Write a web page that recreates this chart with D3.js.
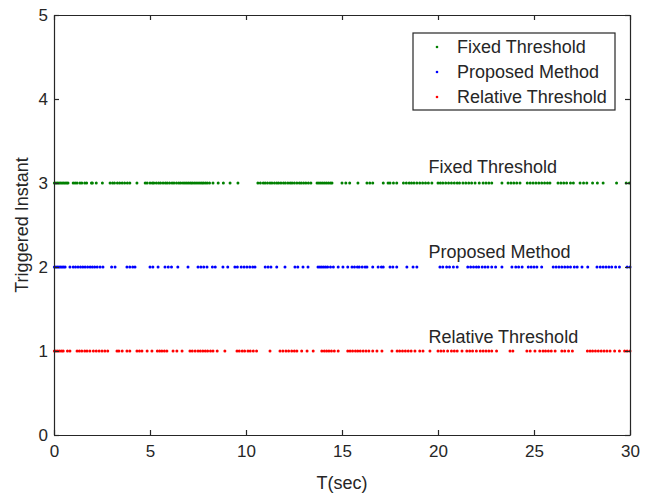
<!DOCTYPE html>
<html>
  <head>
    <script src="https://d3js.org/d3.v7.min.js"></script>
    <style>
      body { margin: 0; background-color: white; }
      text { font-family: 'Liberation Sans', Arial, sans-serif; fill: #262626; }
    </style>
  </head>
  <body>
    <svg id="canvas" width="645" height="493"></svg>
    <script>
      // triggering instants (sec)
      const fixedT = [0.02, 0.1, 0.18, 0.26, 0.34, 0.42, 0.5, 0.58, 0.66, 0.73,
        1.0, 1.1, 1.2, 1.35, 1.45, 1.6, 1.7, 1.95, 2.0, 2.2, 2.52,
        2.92, 3.05, 3.15, 3.3, 3.42, 3.55, 3.68, 3.82, 3.95, 4.32,
        4.75, 4.85, 5.0, 5.12, 5.2, 5.33, 5.45, 5.55, 5.68, 5.8, 5.9, 6.02, 6.15, 6.25,
        6.38, 6.5, 6.6, 6.72, 6.82, 6.92, 7.02, 7.12, 7.2, 7.3, 7.4, 7.5, 7.6, 7.7, 7.78,
        7.88, 7.98, 8.1, 8.28, 8.55, 8.82, 9.17, 9.58,
        10.62, 10.75, 10.9, 11.0, 11.12, 11.25, 11.35, 11.48, 11.6, 11.7, 11.82, 11.95,
        12.05, 12.18, 12.3, 12.4, 12.52, 12.65, 12.78, 12.88, 13.0, 13.12, 13.25, 13.38,
        13.7, 13.8, 13.9, 14.0, 14.1, 14.2, 14.3, 14.4, 14.48, 15.0, 15.2, 15.4, 15.83,
        16.3, 16.45, 16.6, 17.15, 17.4, 17.5, 17.68, 17.85,
        18.2, 18.35, 18.5, 18.62, 18.75, 18.9, 19.05, 19.2, 19.35, 19.5, 19.68,
        20.0, 20.12, 20.25, 20.4, 20.55, 20.7, 20.85, 21.0, 21.12, 21.3, 21.45, 21.6, 21.75,
        21.93, 22.15, 22.35, 22.5, 22.65, 22.8, 23.33, 23.65, 23.8, 23.95, 24.1, 24.27,
        24.65, 24.8, 24.95, 25.1, 25.25, 25.4, 25.55, 25.7, 25.83,
        26.25, 26.4, 26.55, 26.7, 26.9, 27.05, 27.4, 27.58, 27.75, 28.05, 28.3, 28.6,
        29.3, 29.8, 29.97]
      const proposedT = [0.02, 0.1, 0.18, 0.26, 0.34, 0.42, 0.5, 0.58, 0.83,
        1.0, 1.12, 1.25, 1.38, 1.5, 1.62, 1.75, 1.88, 2.0, 2.12, 2.25, 2.4, 2.55,
        3.0, 3.18, 3.8, 3.95, 4.1, 4.22, 5.0, 5.15, 5.42, 5.78, 5.95, 6.12, 6.45, 6.98,
        7.5, 7.65, 7.8, 7.97, 8.25, 8.4, 8.8, 9.05, 9.42, 9.55, 9.75, 9.9, 10.05, 10.2,
        10.35, 10.47, 11.0, 11.15, 11.3, 11.6, 12.03, 12.55, 12.7, 12.97, 13.23,
        13.75, 13.85, 13.95, 14.05, 14.15, 14.25, 14.4, 14.55, 14.8, 15.05, 15.3,
        15.52, 15.65, 15.8, 15.9, 16.05, 16.2, 16.3, 16.6, 16.88, 17.05, 17.15,
        17.5, 17.65, 17.85, 18.38, 18.7, 18.9,
        20.1, 20.25, 20.45, 20.6, 20.8, 21.0, 21.55, 21.7, 21.85, 22.0, 22.12, 22.3,
        22.45, 22.6, 22.8, 23.0, 23.33, 23.85, 24.05, 24.2, 24.38,
        24.7, 24.85, 25.0, 25.15, 25.4, 26.0, 26.15, 26.3, 26.45, 26.6, 26.75, 26.9,
        27.1, 27.25, 27.5, 27.8, 28.28, 28.45, 28.6, 28.75, 28.9, 29.05, 29.25, 29.45,
        29.85, 30.0]
      const relativeT = [0.02, 0.1, 0.2, 0.3, 0.4, 0.48, 0.7, 0.83,
        1.2, 1.32, 1.45, 1.6, 1.72, 1.87, 2.05, 2.2, 2.35, 2.5, 2.65, 2.8,
        3.28, 3.38, 3.55, 3.8, 3.95, 4.32, 4.45, 4.58, 4.85, 5.1,
        5.38, 5.5, 5.62, 5.75, 5.88, 6.2, 6.4, 6.67, 7.08, 7.2, 7.35,
        7.5, 7.62, 7.75, 7.88, 8.0, 8.15, 8.28, 8.5, 8.9,
        9.53, 9.65, 9.8, 9.93, 10.1, 10.22, 10.38, 10.55, 11.25,
        11.77, 11.92, 12.08, 12.22, 12.38, 12.52, 12.65, 12.9, 13.18, 13.5,
        13.95, 14.08, 14.2, 14.32, 14.45, 14.6, 14.8,
        15.3, 15.42, 15.55, 15.7, 15.82, 15.95, 16.1, 16.25, 16.4, 16.6, 16.82, 17.08,
        17.6, 17.87, 18.0, 18.15, 18.3, 18.45, 18.6, 18.8, 19.05, 19.22, 19.58,
        20.0, 20.15, 20.3, 20.5, 20.7, 20.85, 21.0, 21.25, 21.5, 21.65, 21.8, 22.0,
        22.2, 22.35, 22.5, 22.65, 22.8, 23.05, 23.75, 23.9, 24.63, 24.8, 25.05, 25.3,
        25.47, 25.6, 25.75, 25.9, 26.1, 26.45, 26.6, 26.8, 27.0,
        27.78, 27.92, 28.05, 28.2, 28.35, 28.5, 28.65, 28.8, 28.96, 29.2, 29.45,
        29.72, 29.85, 30.0]

      const seriesNames = ['Fixed Threshold', 'Proposed Method', 'Relative Threshold']
      const seriesLevel = [3, 2, 1]
      const seriesColor = ['#008000', '#0000ff', '#ff0000']
      const seriesData = [fixedT, proposedT, relativeT]
      // where the in-plot labels sit (data coords)
      const labelPos = [[19.5, 3.19], [19.5, 2.18], [19.5, 1.17]]

      const xTicks = [0, 5, 10, 15, 20, 25, 30]
      const yTicks = [0, 1, 2, 3, 4, 5]

      const margin = { top: 15, right: 15, bottom: 58, left: 54 }
      const svg = d3.select('#canvas')
      const width = 645 - margin.left - margin.right
      const height = 493 - margin.top - margin.bottom
      const g = svg.append('g').attr('transform', `translate(${margin.left}, ${margin.top})`)

      const x = d3.scaleLinear().domain([0, 30]).range([0, width])
      const y = d3.scaleLinear().domain([0, 5]).range([height, 0])

      // dots
      seriesData.forEach((data, i) => {
        g.append('g').selectAll('circle').data(data)
          .enter()
          .append('circle')
            .attr('cx', d => x(d))
            .attr('cy', y(seriesLevel[i]))
            .attr('r', 1.5)
            .attr('fill', seriesColor[i])
      })

      // axes (matlab style: box with ticks inside on all sides)
      const tickLen = 5
      const axisStyle = sel => {
        sel.select('.domain').attr('stroke', '#262626').attr('stroke-width', 1.2)
        sel.selectAll('.tick line').attr('stroke', '#262626').attr('stroke-width', 1.2)
        sel.selectAll('.tick text').style('font-size', '17px').attr('fill', '#262626')
      }
      g.append('g').attr('transform', `translate(0, ${height})`)
        .call(d3.axisBottom(x).tickValues(xTicks).tickFormat(d3.format('d'))
          .tickSizeInner(-tickLen).tickSizeOuter(0).tickPadding(10))
        .call(axisStyle)
      g.append('g')
        .call(d3.axisLeft(y).tickValues(yTicks).tickFormat(d3.format('d'))
          .tickSizeInner(-tickLen).tickSizeOuter(0).tickPadding(6))
        .call(axisStyle)
      g.append('g')
        .call(d3.axisTop(x).tickValues(xTicks).tickSizeInner(-tickLen).tickSizeOuter(0).tickFormat(''))
        .call(axisStyle)
      g.append('g').attr('transform', `translate(${width}, 0)`)
        .call(d3.axisRight(y).tickValues(yTicks).tickSizeInner(-tickLen).tickSizeOuter(0).tickFormat(''))
        .call(axisStyle)

      // axis titles
      g.append('text')
        .attr('x', width / 2).attr('y', height + 54)
        .attr('text-anchor', 'middle')
        .style('font-size', '18px')
        .text('T(sec)')
      g.append('text')
        .attr('transform', `translate(-26, ${height / 2}) rotate(-90)`)
        .attr('text-anchor', 'middle')
        .style('font-size', '18px')
        .text('Triggered Instant')

      // in-plot labels
      seriesNames.forEach((name, i) => {
        g.append('text')
          .attr('x', x(labelPos[i][0]))
          .attr('y', y(labelPos[i][1]))
          .attr('dy', '0.35em')
          .style('font-size', '18px')
          .attr('fill', '#000')
          .text(name)
      })

      // legend
      const lg = g.append('g').attr('transform', `translate(${413 - margin.left}, ${33 - margin.top})`)
      lg.append('rect')
        .attr('width', 202).attr('height', 77)
        .attr('fill', 'white')
        .attr('stroke', '#262626')
        .attr('stroke-width', 1.2)
      seriesNames.forEach((name, i) => {
        lg.append('circle')
          .attr('cx', 24).attr('cy', 14 + i * 25)
          .attr('r', 1.3)
          .attr('fill', seriesColor[i])
        lg.append('text')
          .attr('x', 44).attr('y', 14 + i * 25)
          .attr('dy', '0.35em')
          .style('font-size', '18px')
          .attr('fill', '#000')
          .text(name)
      })
    </script>
  </body>
</html>
